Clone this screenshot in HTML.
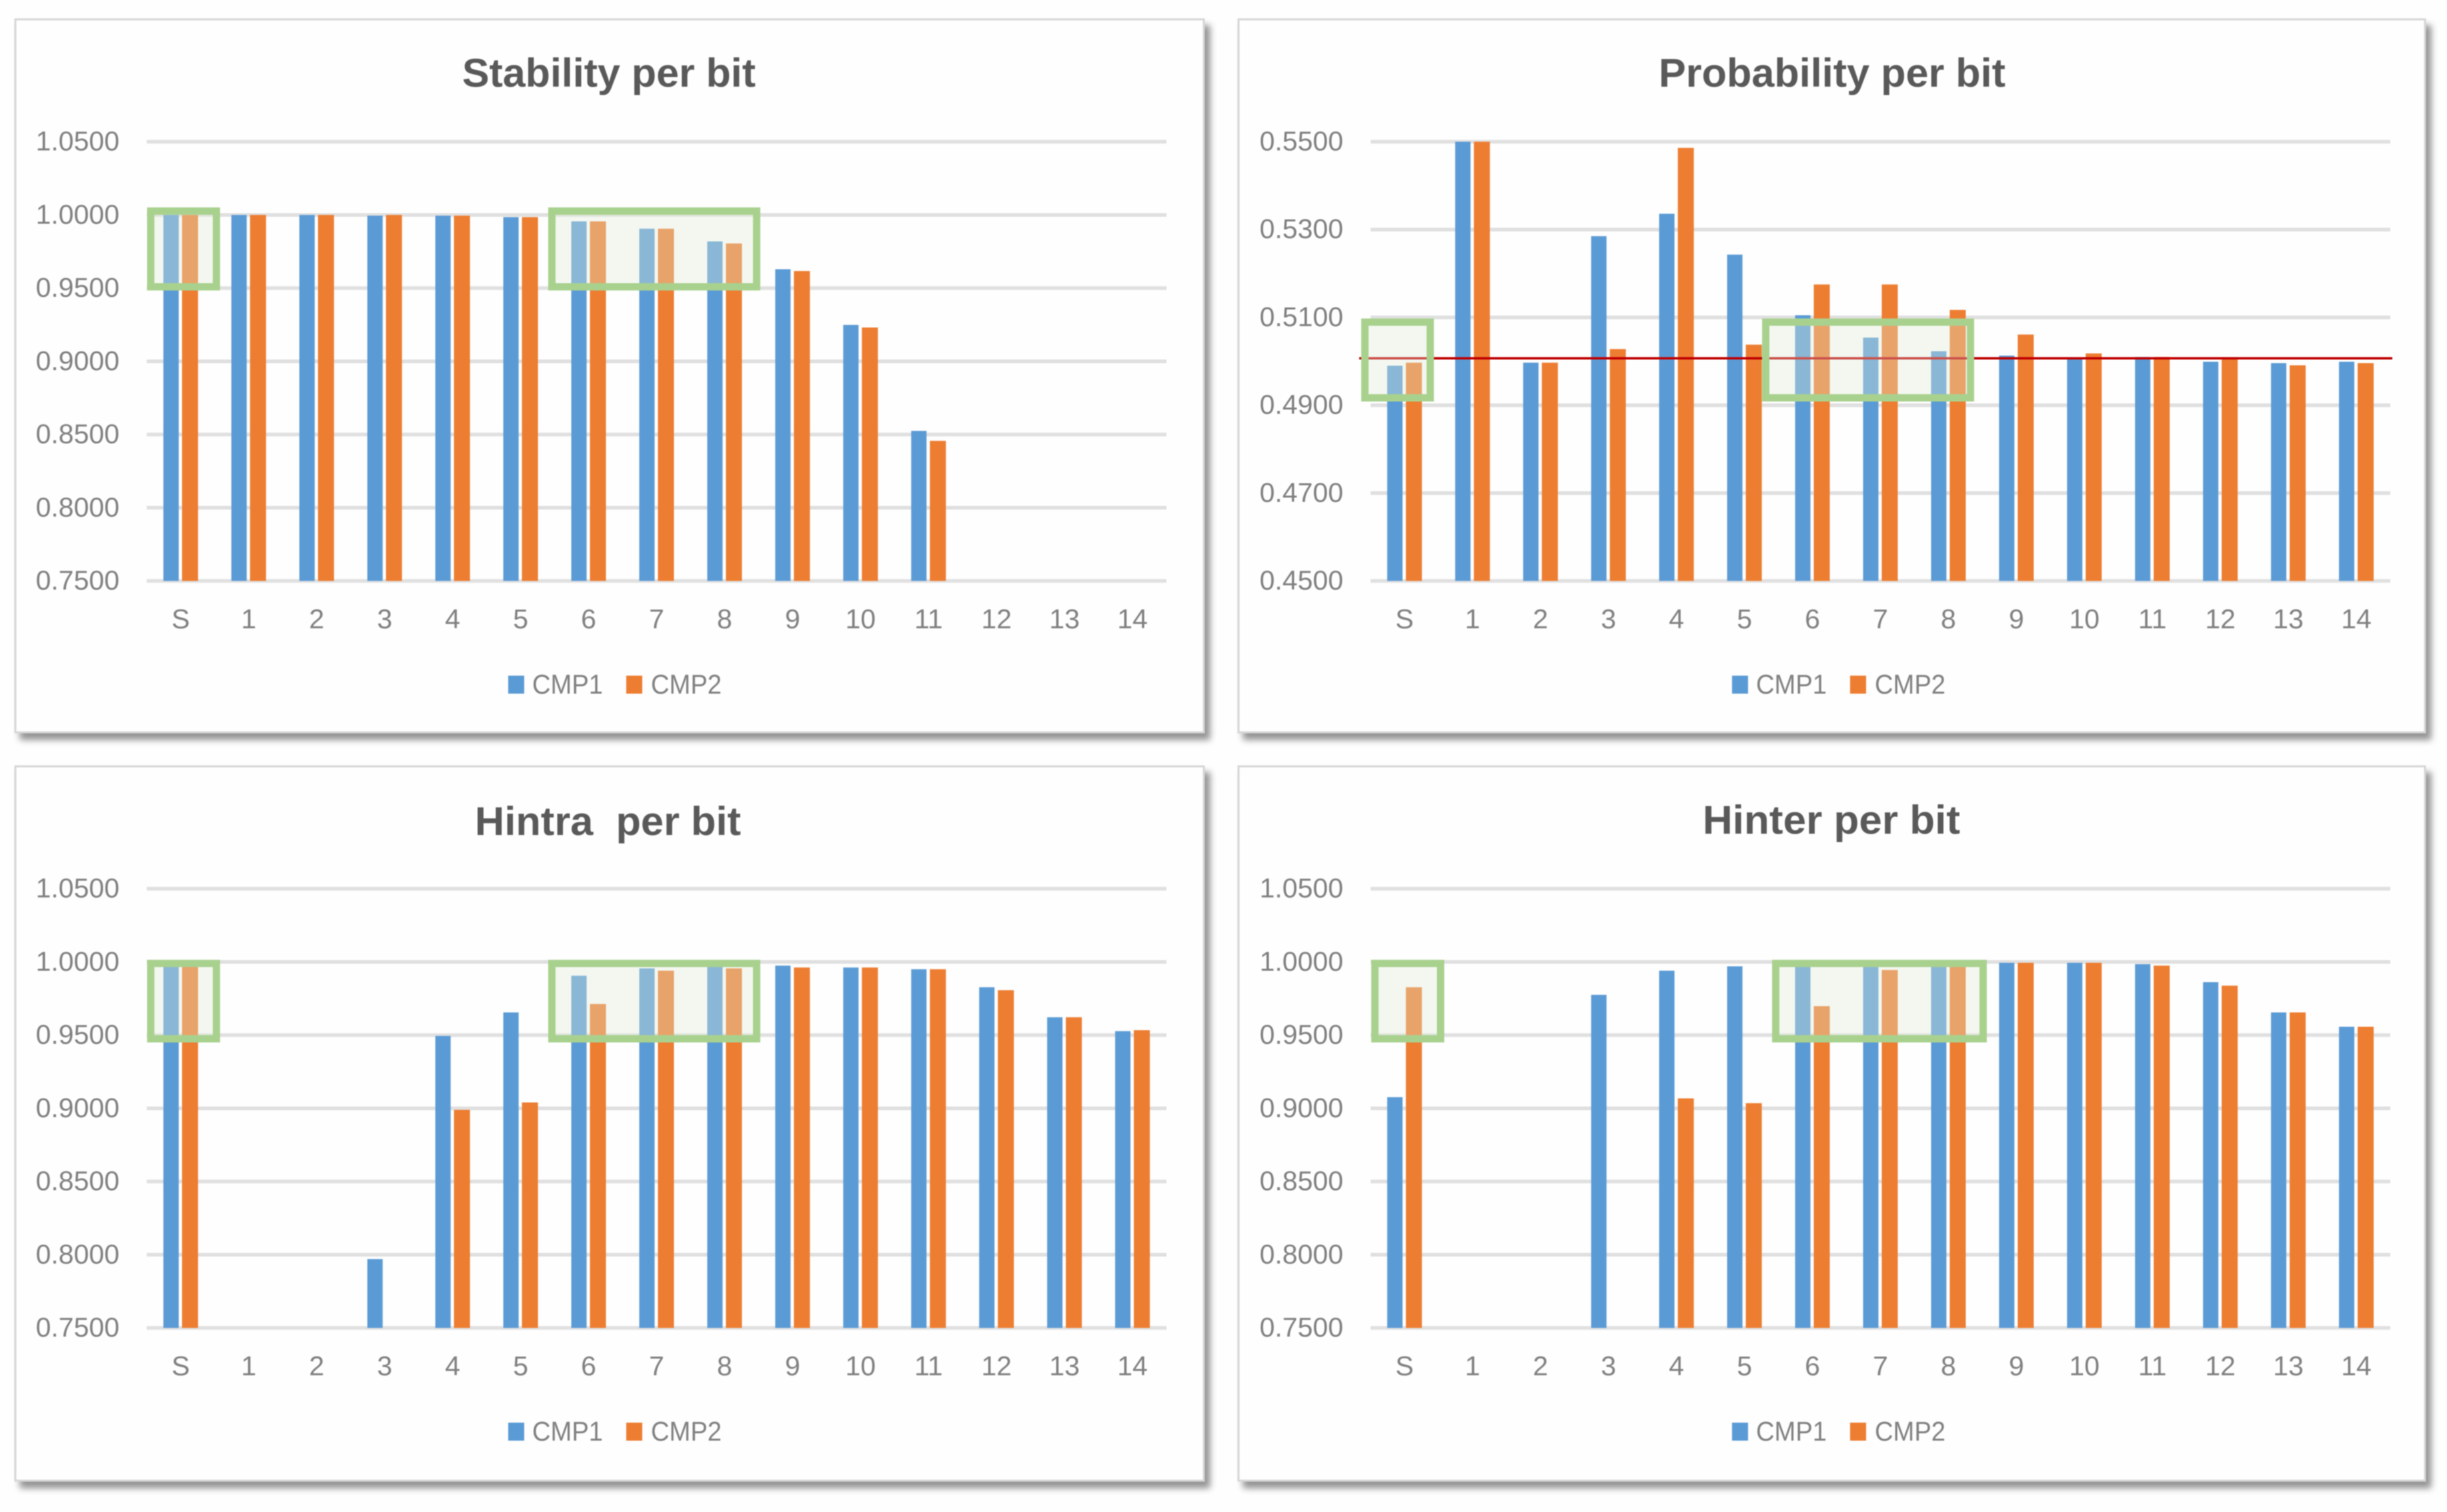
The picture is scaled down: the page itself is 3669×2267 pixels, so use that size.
<!DOCTYPE html>
<html lang="en">
<head>
<meta charset="utf-8">
<title>Per-bit metrics</title>
<style>
  html, body { margin: 0; padding: 0; width: 3669px; height: 2267px; overflow: hidden; background: #fefefe; }
  svg { display: block; filter: blur(0.9px); }
  text { font-family: "Liberation Sans", sans-serif; white-space: pre; }
</style>
</head>
<body>
<svg id="figure" xmlns="http://www.w3.org/2000/svg" width="3669" height="2267" viewBox="0 0 3669 2267">
  <defs>
    <filter id="panel-shadow" x="-5%" y="-5%" width="110%" height="112%">
      <feDropShadow dx="8" dy="10" stdDeviation="5" flood-color="#000" flood-opacity="0.42"/>
    </filter>
  </defs>
</svg>
<script>
const categories = ['S','1','2','3','4','5','6','7','8','9','10','11','12','13','14'];
const seriesNames = ['CMP1','CMP2'];

const stabilityCmp1 = [1.0000,1.0000,1.0000,0.9995,0.9995,0.9985,0.9956,0.9906,0.9819,0.9629,0.9249,0.8525,0,0,0];
const stabilityCmp2 = [1.0000,1.0000,1.0000,1.0000,0.9995,0.9985,0.9956,0.9906,0.9805,0.9617,0.9231,0.8457,0,0,0];
const stabilityTicks = ['1.0500','1.0000','0.9500','0.9000','0.8500','0.8000','0.7500'];

const probabilityCmp1 = [0.4990,0.5500,0.4997,0.5285,0.5336,0.5243,0.5105,0.5054,0.5023,0.5013,0.5007,0.5010,0.4999,0.4996,0.4999];
const probabilityCmp2 = [0.4997,0.5500,0.4997,0.5028,0.5486,0.5038,0.5175,0.5175,0.5117,0.5061,0.5018,0.5010,0.5008,0.4991,0.4996];
const probabilityTicks = ['0.5500','0.5300','0.5100','0.4900','0.4700','0.4500'];
const probabilityReference = 0.5007;

const hintraCmp1 = [0.9990,0,0,0.7970,0.9495,0.9655,0.9906,0.9956,0.9975,0.9975,0.9962,0.9950,0.9827,0.9622,0.9527];
const hintraCmp2 = [0.9990,0,0,0,0.8990,0.9040,0.9713,0.9940,0.9956,0.9962,0.9962,0.9950,0.9807,0.9622,0.9534];
const hintraTicks = ['1.0500','1.0000','0.9500','0.9000','0.8500','0.8000','0.7500'];

const hinterCmp1 = [0.9076,0,0,0.9775,0.9940,0.9970,0.9985,0.9985,0.9985,0.9994,0.9994,0.9985,0.9862,0.9655,0.9557];
const hinterCmp2 = [0.9827,0,0,0,0.9068,0.9035,0.9698,0.9945,0.9985,0.9994,0.9994,0.9975,0.9838,0.9655,0.9557];
const hinterTicks = ['1.0500','1.0000','0.9500','0.9000','0.8500','0.8000','0.7500'];

const charts = [
  { id:'stability', title:'Stability per bit', titleX:693, titleW:440, baseline:130,
    left:23, top:29, right:1805, bottom:1098, plotLeft:220, plotTop:212.5,
    cmp1:stabilityCmp1, cmp2:stabilityCmp2, ticks:stabilityTicks, refValue:null,
    boxes:[[220.5,311,330,435.5],[822,311,1140,435.5]] },
  { id:'probability', title:'Probability per bit', titleX:2487, titleW:520, baseline:130,
    left:1857, top:29, right:3636, bottom:1098, plotLeft:2055, plotTop:212.5,
    cmp1:probabilityCmp1, cmp2:probabilityCmp2, ticks:probabilityTicks, refValue:probabilityReference,
    boxes:[[2041,477.5,2150,602],[2642,477.5,2960,602]] },
  { id:'hintra', title:'Hintra  per bit', titleX:712, titleW:399, baseline:1252,
    left:23, top:1149, right:1805, bottom:2220, plotLeft:220, plotTop:1332.5,
    cmp1:hintraCmp1, cmp2:hintraCmp2, ticks:hintraTicks, refValue:null,
    boxes:[[220.5,1439,330,1563],[822,1439,1140,1563]] },
  { id:'hinter', title:'Hinter per bit', titleX:2553, titleW:386, baseline:1250,
    left:1857, top:1149, right:3636, bottom:2220, plotLeft:2055, plotTop:1332.5,
    cmp1:hinterCmp1, cmp2:hinterCmp2, ticks:hinterTicks, refValue:null,
    boxes:[[2056,1439,2165.5,1563],[2657,1439,2979,1563]] }
];

const PLOT_W = 1529, PLOT_H = 658.5, SVGNS = 'http://www.w3.org/2000/svg';
const svg = document.getElementById('figure');

function make(parent, tag, attrs) {
  const el = document.createElementNS(SVGNS, tag);
  for (const k in attrs) el.setAttribute(k, attrs[k]);
  parent.appendChild(el);
  return el;
}

function drawChart(c) {
  const tickValues = c.ticks.map(Number);
  const axisMax = Math.max.apply(null, tickValues);
  const axisMin = Math.min.apply(null, tickValues);
  const yScale = v => c.plotTop + (axisMax - v) / (axisMax - axisMin) * PLOT_H;
  const band = PLOT_W / categories.length;
  const xCenter = i => c.plotLeft + band * (i + 0.5);
  const plotBottom = c.plotTop + PLOT_H;

  const g = make(svg, 'g', {});
  
  

  const panel = make(g, 'rect', { x:c.left, y:c.top, width:c.right-c.left, height:c.bottom-c.top, fill:'#fefefe', stroke:'#d6d6d6', 'stroke-width':3, filter:'url(#panel-shadow)' });
  
  

  const title = make(g, 'text', { x:c.titleX, y:c.baseline, 'font-size':60, 'font-weight':700, fill:'#595959', textLength:c.titleW, lengthAdjust:'spacingAndGlyphs' });
  title.textContent = c.title;
  
  

  c.ticks.forEach(t => {
    const y = yScale(Number(t));
    const line = make(g, 'line', { x1:c.plotLeft, x2:c.plotLeft+PLOT_W, y1:y, y2:y, stroke:'#e0e0e0', 'stroke-width':5.5 });
    
    
    const label = make(g, 'text', { x:c.plotLeft-41, y:y+13, 'font-size':41, fill:'#808080', 'text-anchor':'end' });
    label.textContent = t;
    
    
  });

  categories.forEach((cat, i) => {
    const label = make(g, 'text', { x:xCenter(i), y:plotBottom+71, 'font-size':41, fill:'#808080', 'text-anchor':'middle' });
    label.textContent = cat;
    
    

    if (c.cmp1[i] > axisMin) {
      const y = yScale(Math.min(c.cmp1[i], axisMax));
      const bar = make(g, 'rect', { x:xCenter(i)-26, y:y, width:23, height:plotBottom-y, fill:'#5b9bd5' });
      
      
    }
    if (c.cmp2[i] > axisMin) {
      const y = yScale(Math.min(c.cmp2[i], axisMax));
      const bar = make(g, 'rect', { x:xCenter(i)+2, y:y, width:24, height:plotBottom-y, fill:'#ed7d31' });
      
      
    }
  });

  if (c.refValue !== null) {
    const y = yScale(c.refValue);
    const ref = make(g, 'line', { x1:c.plotLeft-17, x2:c.plotLeft+PLOT_W+3, y1:y, y2:y, stroke:'#c00000', 'stroke-width':3.6 });
    
    
  }

  c.boxes.forEach(b => {
    const box = make(g, 'rect', { x:b[0]+5.5, y:b[1]+5.5, width:b[2]-b[0]-11, height:b[3]-b[1]-11, fill:'rgb(224,235,215)', 'fill-opacity':0.35, stroke:'#a9d18e', 'stroke-width':11 });
    
    
  });

  const legendY = plotBottom + 169;
  const offsetX = c.plotLeft - 220;
  const swatchX = [762, 939], textX = [798, 976], colors = ['#5b9bd5', '#ed7d31'];
  seriesNames.forEach((name, i) => {
    const sw = make(g, 'rect', { x:swatchX[i]+offsetX, y:legendY-27, width:24, height:27, fill:colors[i] });
    
    
    const t = make(g, 'text', { x:textX[i]+offsetX, y:legendY, 'font-size':41, fill:'#808080', textLength:106, lengthAdjust:'spacingAndGlyphs' });
    t.textContent = name;
    
    
  });
}

charts.forEach(drawChart);
</script>
</body>
</html>
